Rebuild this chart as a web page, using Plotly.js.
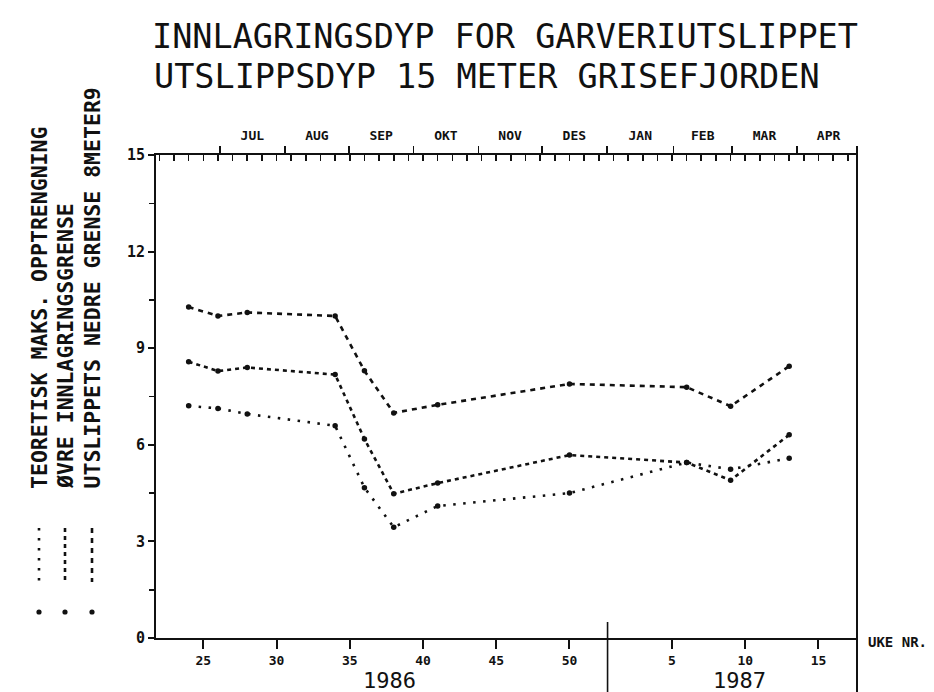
<!DOCTYPE html>
<html>
<head>
<meta charset="utf-8">
<script src="https://cdn.plot.ly/plotly-3.0.1.min.js"></script>
<style>
  html, body { margin: 0; padding: 0; background: #ffffff; }
  #chart { width: 934px; height: 692px; }
</style>
</head>
<body>
<div id="chart"></div>
<script>
// ---------- data (week numbers, 1987 weeks counted as 52 + week) ----------
const weeks = [24, 26, 28, 34, 36, 38, 41, 50, 58, 61, 65];
const nedreGrense = [10.28, 10.0, 10.11, 10.0, 8.30, 6.99, 7.24, 7.89, 7.79, 7.20, 8.44];
const ovreGrense  = [8.58, 8.29, 8.40, 8.18, 6.18, 4.48, 4.81, 5.68, 5.45, 4.90, 6.31];
const teoretisk   = [7.21, 7.13, 6.96, 6.59, 4.67, 3.44, 4.10, 4.50, 5.45, 5.24, 5.58];
const seriesNames = ['TEORETISK MAKS. OPPTRENGNING', 'ØVRE INNLAGRINGSGRENSE', 'UTSLIPPETS NEDRE GRENSE 8METER9'];

const titleLines = ['INNLAGRINGSDYP FOR GARVERIUTSLIPPET', 'UTSLIPPSDYP 15 METER GRISEFJORDEN'];
const weekTickVals = [25, 30, 35, 40, 45, 50, 57, 62, 67];
const weekTickText = ['25', '30', '35', '40', '45', '50', '5', '10', '15'];
const yTickVals = [0, 3, 6, 9, 12, 15];
const yTickText = ['0', '3', '6', '9', '12', '15'];
const monthNames = ['JUL', 'AUG', 'SEP', 'OKT', 'NOV', 'DES', 'JAN', 'FEB', 'MAR', 'APR'];
const monthBounds = [26.12, 30.57, 34.94, 39.34, 43.78, 48.11, 52.55, 57.11, 61.09, 65.54, 69.84];
const yearLabels = ['1986', '1987'];
const yearCenters = [37.74, 61.63];
const yearBreak = 52.6;
const xRange = [21.77, 69.63];

// ---------- styles ----------
const ink = '#111111';
const mono = 'DejaVu Sans Mono, Liberation Mono, monospace';
const dashStyles = ['2.5px,7.5px', '4px,4px', '5px,5px'];
const seriesData = [teoretisk, ovreGrense, nedreGrense];

const monthMids = monthNames.map((m, i) => (monthBounds[i] + monthBounds[i + 1]) / 2);
const weekMinor = [];
for (let w = Math.ceil(xRange[0]); w <= Math.floor(xRange[1]); w++) weekMinor.push(w);

const traces = seriesData.map((vals, i) => ({
  type: 'scatter', mode: 'lines+markers',
  x: weeks, y: vals, name: seriesNames[i],
  line: { color: ink, width: 2.6, dash: dashStyles[i] },
  marker: { color: ink, size: 5.5 },
  showlegend: false, hoverinfo: 'x+y'
}));
traces.push({ x: [], y: [], xaxis: 'x2', yaxis: 'y', showlegend: false, hoverinfo: 'skip', type: 'scatter' });
traces.push({ x: [], y: [], xaxis: 'x3', yaxis: 'y', showlegend: false, hoverinfo: 'skip', type: 'scatter' });

// ---------- geometry helpers for decorations (paper coords) ----------
const M = { l: 156, r: 77, t: 155, b: 54 };
const PW = 934 - M.l - M.r, PH = 692 - M.t - M.b;
const px = x => (x - M.l) / PW;
const py = y => (692 - M.b - y) / PH;

const shapes = [];
// right frame line extending beyond plot
shapes.push({ type: 'line', xref: 'paper', yref: 'paper', x0: 1, x1: 1, y0: py(692), y1: py(146), line: { color: ink, width: 2 } });
// year break line
shapes.push({ type: 'line', xref: 'x', yref: 'paper', x0: yearBreak, x1: yearBreak, y0: py(622), y1: py(692), line: { color: ink, width: 1.6 } });

// legend samples (vertical) and labels
const legendX = [39, 65, 92];
const annotations = [];
seriesNames.forEach((name, i) => {
  const xc = px(legendX[i]);
  shapes.push({ type: 'line', xref: 'paper', yref: 'paper', x0: xc, x1: xc, y0: py(528), y1: py(582),
    line: { color: ink, width: 2.6, dash: dashStyles[i] } });
  shapes.push({ type: 'circle', xref: 'paper', yref: 'paper', fillcolor: ink, line: { width: 0 },
    x0: xc - 2.6 / PW, x1: xc + 2.6 / PW, y0: py(612) - 2.6 / PH, y1: py(612) + 2.6 / PH });
  annotations.push({ text: name, xref: 'paper', yref: 'paper', x: xc, y: py(491), textangle: -90,
    xanchor: 'center', yanchor: 'bottom', showarrow: false,
    font: { family: mono, size: 21.5, color: ink, weight: 700 } });
});
yearLabels.forEach((t, i) => annotations.push({ text: t, xref: 'x', yref: 'paper', x: yearCenters[i], y: py(680),
  xanchor: 'center', yanchor: 'middle', showarrow: false, font: { family: mono, size: 22, color: ink } }));
annotations.push({ text: 'UKE NR.', xref: 'paper', yref: 'paper', x: px(866), y: py(642), xanchor: 'left', yanchor: 'middle',
  showarrow: false, font: { family: mono, size: 14, color: ink, weight: 700 } });
// second title line
annotations.push({ text: titleLines[1], xref: 'paper', yref: 'paper', x: px(152), y: py(77), xanchor: 'left', yanchor: 'middle',
  showarrow: false, font: { family: mono, size: 33.5, color: ink } });

const layout = {
  width: 934, height: 692,
  margin: M,
  paper_bgcolor: '#ffffff', plot_bgcolor: '#ffffff',
  title: {
    text: titleLines[0],
    xref: 'container', yref: 'container', x: 152 / 934, xanchor: 'left', y: 1 - 36 / 692, yanchor: 'middle',
    font: { family: mono, size: 33.5, color: ink }
  },
  xaxis: {
    range: xRange, showgrid: false, zeroline: false,
    showline: true, linecolor: ink, linewidth: 2,
    tickmode: 'array', tickvals: weekTickVals, ticktext: weekTickText,
    ticks: 'outside', ticklen: 9, tickwidth: 2, tickcolor: ink,
    tickfont: { family: mono, size: 13, color: ink, weight: 700 }
  },
  xaxis2: {
    overlaying: 'x', side: 'top', anchor: 'y', range: xRange, showgrid: false, zeroline: false,
    showline: true, linecolor: ink, linewidth: 2,
    tickmode: 'array', tickvals: monthMids, ticktext: monthNames, ticks: '', ticklabelstandoff: 8,
    tickfont: { family: mono, size: 13, color: ink, weight: 700 }
  },
  xaxis3: {
    overlaying: 'x', side: 'top', anchor: 'y', range: xRange, showgrid: false, zeroline: false, showline: false,
    tickmode: 'array', tickvals: monthBounds.slice(0, 10), showticklabels: false,
    ticks: 'outside', ticklen: 8, tickwidth: 1.6, tickcolor: ink,
    minor: { tickmode: 'array', tickvals: weekMinor, ticks: 'inside', ticklen: 6, tickwidth: 1.6, tickcolor: ink, showgrid: false }
  },
  yaxis: {
    range: [0, 15], showgrid: false, zeroline: false,
    showline: true, linecolor: ink, linewidth: 2,
    tickmode: 'array', tickvals: yTickVals, ticktext: yTickText,
    ticks: 'outside', ticklen: 6, tickwidth: 2, tickcolor: ink,
    minor: { dtick: 1.5, tick0: 0, ticks: 'outside', ticklen: 5, tickwidth: 1.6, tickcolor: ink, showgrid: false },
    tickfont: { family: mono, size: 15, color: ink, weight: 700 }
  },
  shapes: shapes,
  annotations: annotations,
  showlegend: false
};

Plotly.newPlot('chart', traces, layout, { displayModeBar: false, staticPlot: true });
</script>
</body>
</html>
